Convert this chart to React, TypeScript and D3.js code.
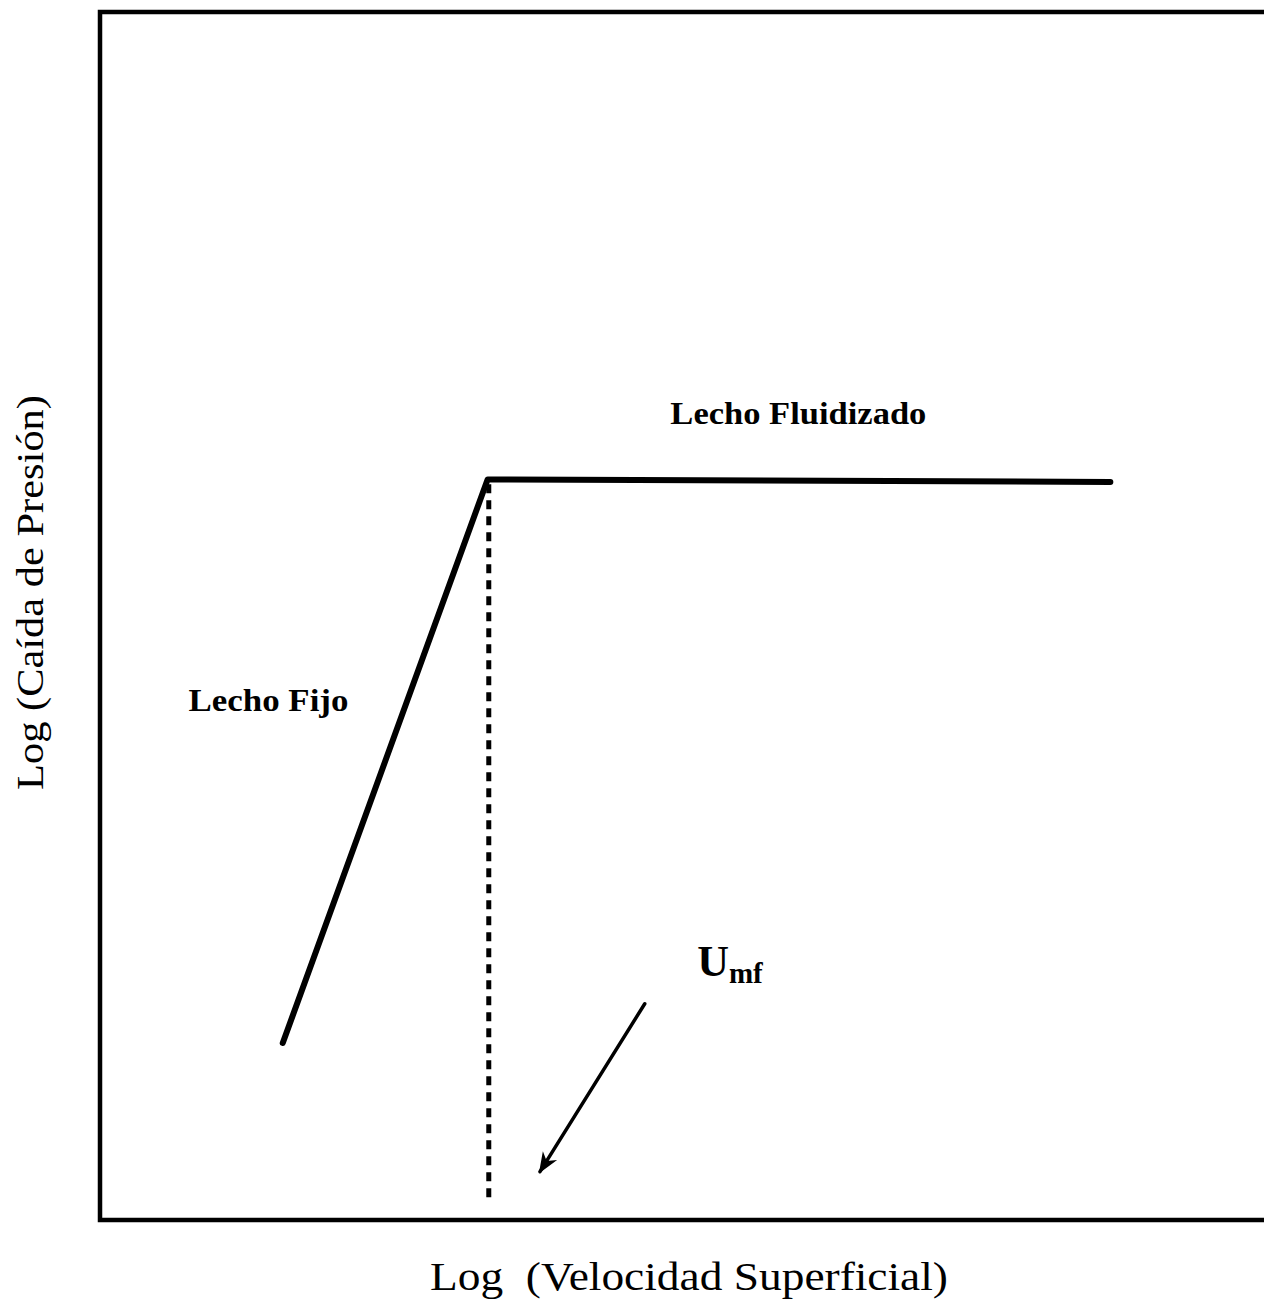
import { useEffect, useRef } from 'react';
import * as d3 from 'd3';

// Schematic: pressure drop vs superficial velocity (log-log), arbitrary units 0–100.
const WIDTH = 1264;
const HEIGHT = 1305;
const PLOT = { left: 100, right: 1264, top: 12, bottom: 1220 } as const;

const FIXED_BED_X = [15.7, 33.3];
const FIXED_BED_Y = [14.65, 61.3];
const FLUID_BED_X = [33.3, 86.8];
const FLUID_BED_Y = [61.3, 61.1];
const UMF_X = 33.4;
const UMF_Y_RANGE = [60.9, 1.7];
const ARROW_X = [46.8, 37.8];
const ARROW_Y = [17.9, 4.0];

const LABELS = [
  { text: 'Lecho Fluidizado', x: 49.0, y: 65.9, length: 256 },
  { text: 'Lecho Fijo', x: 7.6, y: 42.1, length: 160 },
];

const SERIF = '"Liberation Serif", "Times New Roman", Times, serif';

export default function App() {
  const svgRef = useRef<SVGSVGElement | null>(null);

  useEffect(() => {
    const svgEl = svgRef.current;
    if (!svgEl) return;
    const svg = d3.select(svgEl);
    svg.selectAll('*').remove();

    const x = d3.scaleLinear().domain([0, 100]).range([PLOT.left, PLOT.right]);
    const y = d3.scaleLinear().domain([0, 100]).range([PLOT.bottom, PLOT.top]);

    svg.append('rect').attr('width', WIDTH).attr('height', HEIGHT).attr('fill', '#ffffff');

    // ---- frame (left, top, bottom; right side runs off the page) --------
    svg
      .append('path')
      .attr('d', `M${x(100)},${y(100)} L${x(0)},${y(100)} L${x(0)},${y(0)} L${x(100)},${y(0)}`)
      .attr('fill', 'none')
      .attr('stroke', '#000')
      .attr('stroke-width', 4.5);

    const line = d3
      .line<[number, number]>()
      .x((d) => x(d[0]))
      .y((d) => y(d[1]));

    const zip = (xs: number[], ys: number[]) => xs.map((v, i) => [v, ys[i]] as [number, number]);

    // ---- fixed and fluidized bed -----------------------------------------
    svg
      .append('path')
      .datum(zip(FIXED_BED_X, FIXED_BED_Y).concat(zip(FLUID_BED_X, FLUID_BED_Y).slice(1)))
      .attr('d', line)
      .attr('fill', 'none')
      .attr('stroke', '#000')
      .attr('stroke-width', 6)
      .attr('stroke-linecap', 'round')
      .attr('stroke-linejoin', 'round');

    // ---- U_mf dotted line ------------------------------------------------
    svg
      .append('path')
      .datum(zip([UMF_X, UMF_X], UMF_Y_RANGE))
      .attr('d', line)
      .attr('fill', 'none')
      .attr('stroke', '#000')
      .attr('stroke-width', 5)
      .attr('stroke-dasharray', '9 7');

    // ---- arrow -----------------------------------------------------------
    const defs = svg.append('defs');
    defs
      .append('marker')
      .attr('id', 'arrowhead')
      .attr('viewBox', '0 0 10 10')
      .attr('refX', 9)
      .attr('refY', 5)
      .attr('markerWidth', 7)
      .attr('markerHeight', 6)
      .attr('markerUnits', 'strokeWidth')
      .attr('orient', 'auto')
      .append('path')
      .attr('d', 'M0,1 L10,5 L0,9 L3,5 Z')
      .attr('fill', '#000');

    svg
      .append('path')
      .datum(zip(ARROW_X, ARROW_Y))
      .attr('d', line)
      .attr('fill', 'none')
      .attr('stroke', '#000')
      .attr('stroke-width', 3.5)
      .attr('stroke-linecap', 'round')
      .attr('marker-end', 'url(#arrowhead)');

    // ---- labels ----------------------------------------------------------
    LABELS.forEach((l) => {
      svg
        .append('text')
        .attr('x', x(l.x))
        .attr('y', y(l.y))
        .attr('font-family', SERIF)
        .attr('font-weight', 'bold')
        .attr('font-size', 31)
        .attr('textLength', l.length)
        .attr('lengthAdjust', 'spacingAndGlyphs')
        .attr('fill', '#000')
        .text(l.text);
    });

    const umf = svg
      .append('text')
      .attr('x', x(51.3))
      .attr('y', y(20.2))
      .attr('font-family', SERIF)
      .attr('font-weight', 'bold')
      .attr('fill', '#000');
    umf.append('tspan').attr('font-size', 44).text('U');
    umf.append('tspan').attr('font-size', 29).attr('dy', 7).text('mf');

    // ---- axis titles -----------------------------------------------------
    svg
      .append('text')
      .attr('x', (430 + 948) / 2)
      .attr('y', 1290)
      .attr('text-anchor', 'middle')
      .attr('font-family', SERIF)
      .attr('font-size', 40)
      .attr('textLength', 518)
      .attr('lengthAdjust', 'spacingAndGlyphs')
      .attr('fill', '#000')
      .attr('xml:space', 'preserve')
      .text('Log  (Velocidad Superficial)');

    svg
      .append('text')
      .attr('transform', `translate(43, ${(395 + 790) / 2}) rotate(-90)`)
      .attr('text-anchor', 'middle')
      .attr('font-family', SERIF)
      .attr('font-size', 38)
      .attr('textLength', 395)
      .attr('lengthAdjust', 'spacingAndGlyphs')
      .attr('fill', '#000')
      .text('Log (Caída de Presión)');
  }, []);

  return (
    <svg
      ref={svgRef}
      width={WIDTH}
      height={HEIGHT}
      viewBox={`0 0 ${WIDTH} ${HEIGHT}`}
      style={{ position: 'absolute', left: 0, top: 0, display: 'block' }}
      role="img"
      aria-label="Caída de presión frente a velocidad superficial: lecho fijo y lecho fluidizado"
    />
  );
}
